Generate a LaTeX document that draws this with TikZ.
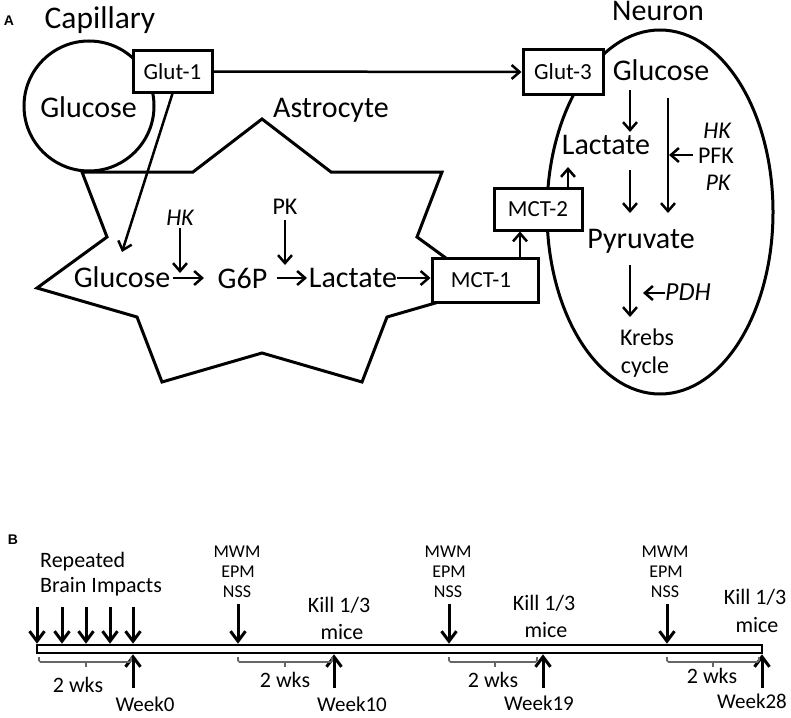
\documentclass[tikz,border=0pt]{standalone}
\usepackage{fontspec}
\setmainfont{Carlito}
\newfontfamily\arialfont{Liberation Sans}
\usetikzlibrary{arrows.meta}
\begin{document}
\begin{tikzpicture}[x=1pt,y=-1pt,
  big/.style={font=\fontsize{30}{36}\selectfont, inner sep=0pt, anchor=base},
  small/.style={font=\fontsize{24}{28}\selectfont, inner sep=0pt, anchor=base},
  tiny/.style={font=\fontsize{18}{22}\selectfont, inner sep=0pt, anchor=base},
  tl/.style={font=\fontsize{22}{26}\selectfont, inner sep=0pt, anchor=base},
  panel/.style={font=\arialfont\bfseries\fontsize{14}{16}\selectfont, inner sep=0pt},
  outline/.style={draw=black, line width=3pt, line join=miter},
  box/.style={draw=black, line width=3pt, fill=white, inner sep=0pt, font=\fontsize{23}{28}\selectfont},
  arr/.style={line width=2.5pt, -{Straight Barb[length=8pt,width=14pt]}},
  tarr/.style={line width=3pt, -{Straight Barb[length=10pt,width=15pt]}},
  brace/.style={draw=black!60, line width=1.6pt, rounded corners=1.5pt}
]
\useasboundingbox (0,0) rectangle (791,717);

% ---------------- Panel A ----------------
\node[panel] (pa) at (9,21) {A};
\node[big, font=\fontsize{31.5}{36}\selectfont] (capT) at (100,29) {Capillary};
\node[big] (astT) at (331,117) {Astrocyte};
\node[big] (neuT) at (658,21) {Neuron};

% astrocyte star
\draw[outline] (82,172) -- (193,172) -- (262,119) -- (331,172) -- (442,172)
  -- (417,237) -- (487,288) -- (387,317) -- (362,382) -- (262,353)
  -- (162,382) -- (137,317) -- (37,288) -- (107,237) -- cycle;

% capillary
\draw[outline] (89,106) circle (65);
\node[big] (capG) at (88.5,117) {Glucose};

% neuron
\draw[outline] (660,212) ellipse (113 and 182);

% boxes
\node[box, minimum width=79, minimum height=41] (glut1) at (172.5,71.5) {Glut-1};
\node[box, minimum width=80, minimum height=44] (glut3) at (563,72) {Glut-3};
\node[box, minimum width=106, minimum height=44] (mct1) at (485,280) {\hspace*{-8pt}MCT-1};
\node[box, minimum width=88, minimum height=42] (mct2) at (538,209) {MCT-2};

% astrocyte content
\node[big] (aGlc) at (122,287) {Glucose};
\node[small, font=\itshape\fontsize{24}{28}\selectfont] (aHK) at (180,225) {HK};
\node[big] (aG6P) at (242.5,288) {G6P};
\node[small] (aPK) at (285,214) {PK};
\node[big] (aLac) at (353,287) {Lactate};

% neuron content
\node[big] (nGlc) at (661,80) {Glucose};
\node[big] (nLac) at (606,154) {Lactate};
\node[small, font=\itshape\fontsize{24}{28}\selectfont] (nHK) at (717,138) {HK};
\node[small] (nPFK) at (716,163) {PFK};
\node[small, font=\itshape\fontsize{24}{28}\selectfont] (nPK) at (718,190) {PK};
\node[big] (nPyr) at (641,248) {Pyruvate};
\node[small, font=\itshape\fontsize{26}{30}\selectfont] (nPDH) at (688,300) {PDH};
\node[small] (nKr) at (647,345) {Krebs};
\node[small] (nCy) at (645,373) {cycle};

% coordinates for connectors
\coordinate (c1) at (122,252);
\coordinate (hk0) at (180,228);  \coordinate (hk1) at (180,273);
\coordinate (pk0) at (285,220);  \coordinate (pk1) at (285,265);
\coordinate (r1a) at (173,278);  \coordinate (r1b) at (204,278);
\coordinate (r2a) at (277,278);  \coordinate (r2b) at (307,278);
\coordinate (r3a) at (397,278);
\coordinate (m2a) at (568,188);  \coordinate (m2b) at (568,167);
\coordinate (n1a) at (630,90);   \coordinate (n1b) at (630,132);
\coordinate (n2a) at (668,98);   \coordinate (n2b) at (668,213);
\coordinate (n3a) at (630,170);  \coordinate (n3b) at (630,213);
\coordinate (n4a) at (693,155);  \coordinate (n4b) at (669,155);
\coordinate (n5a) at (630,265);  \coordinate (n5b) at (630,317);
\coordinate (n6a) at (665,293);  \coordinate (n6b) at (643,293);

\draw[arr] (glut1.east) -- (glut3.west);
\draw[arr] (glut1.south) -- (c1);
\draw[arr] (hk0) -- (hk1);
\draw[arr] (pk0) -- (pk1);
\draw[arr] (r1a) -- (r1b);
\draw[arr] (r2a) -- (r2b);
\draw[arr] (r3a) -- (r3a -| mct1.west);
\draw[arr] ([xshift=35pt]mct1.north) -- ([xshift=-18pt]mct2.south);
\draw[arr] (m2a) -- (m2b);
\draw[arr] (n1a) -- (n1b);
\draw[arr] (n2a) -- (n2b);
\draw[arr] (n3a) -- (n3b);
\draw[arr] (n4a) -- (n4b);
\draw[arr] (n5a) -- (n5b);
\draw[arr] (n6a) -- (n6b);

% ---------------- Panel B ----------------
\node[panel] (pb) at (13,540) {B};
\node[tl, anchor=base west] (rep) at (40,567) {Repeated};
\node[tl, anchor=base west] (bra) at (40,592) {Brain Impacts};

\node[draw=black, line width=2.6pt, fill=white, minimum width=725, minimum height=8, inner sep=0pt] (bar) at (399.5,649) {};

% impact arrows
\foreach \x [count=\i] in {37,62,86,110,133} {
  \coordinate (imp\i) at (\x,607);
  \draw[tarr] (imp\i) -- (imp\i |- bar.north);
}

% test blocks
\foreach \x/\k in {237/1,448/2,665/3} {
  \node[tiny] (mwm\k) at (\x,557) {MWM};
  \node[tiny] (epm\k) at (\x+1,577) {EPM};
  \node[tiny] (nss\k) at (\x,597) {NSS};
}
\foreach \x [count=\i] in {238,449,667} {
  \coordinate (tst\i) at (\x,604);
  \draw[tarr] (tst\i) -- (tst\i |- bar.north);
}

% kill labels
\node[tl] (k1) at (339,612) {Kill 1/3};
\node[tl] (m1) at (342,639) {mice};
\node[tl] (k2) at (544,610) {Kill 1/3};
\node[tl] (m2) at (546,637) {mice};
\node[tl] (k3) at (755,604) {Kill 1/3};
\node[tl] (m3) at (757,632) {mice};

% week arrows
\foreach \x [count=\i] in {133,334,543,762} {
  \coordinate (wk\i) at (\x,688);
  \draw[tarr] (wk\i) -- (wk\i |- bar.south);
}
\node[tl, font=\fontsize{21}{25}\selectfont] (w0) at (145,711) {Week0};
\node[tl, font=\fontsize{21}{25}\selectfont] (w10) at (352,711) {Week10};
\node[tl, font=\fontsize{21}{25}\selectfont] (w19) at (539,710) {Week19};
\node[tl, font=\fontsize{21}{25}\selectfont] (w28) at (752,708) {Week28};

% braces
\foreach \a/\b/\m/\lx/\ly [count=\i] in {39/131/86/78/692, 238/332/285/285/687, 449/537/495/493/687, 667/759/713/712/683} {
  \draw[brace] (\a,657) -- (\a,662) -- (\b,662) -- (\b,657);
  \draw[brace] (\m,662) -- (\m,667);
  \node[tl] (twk\i) at (\lx,\ly) {2 wks};
}
\end{tikzpicture}
\end{document}
